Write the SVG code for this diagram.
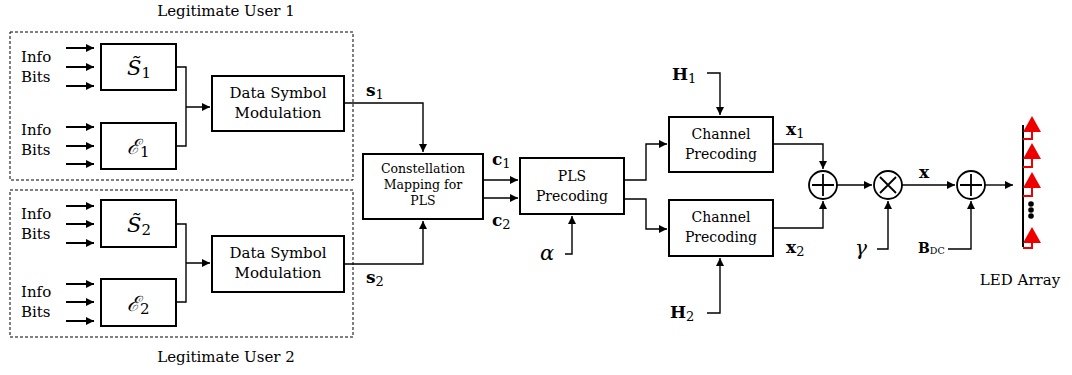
<svg xmlns="http://www.w3.org/2000/svg" width="1072" height="375" viewBox="0 0 1072 375" font-family="'DejaVu Serif', serif">
<style>
text{font-family:"DejaVu Serif",serif;fill:#000}
.t{font-size:15px}
.tm{font-size:15px;text-anchor:middle}
.tc{font-size:14px;text-anchor:middle}
.ts{font-size:12.5px;text-anchor:middle}
.b{font-weight:bold;font-size:17px}
.sub{font-weight:normal;font-size:13px}
.cal{font-style:italic;font-size:21px}
.box{fill:#fff;stroke:#000;stroke-width:2}
.dash{fill:none;stroke:#000;stroke-width:1;stroke-dasharray:3,2}
.ln{fill:none;stroke:#000;stroke-width:1.4}
.in{fill:none;stroke:#000;stroke-width:2}
.op{fill:#fff;stroke:#000;stroke-width:1.8}
.red{fill:none;stroke:#e00;stroke-width:2}
</style>
<defs>
<marker id="ah" viewBox="0 0 10 10" refX="10" refY="5" markerWidth="9" markerHeight="8" markerUnits="userSpaceOnUse" orient="auto"><path d="M0,0 L10,5 L0,10 z" fill="#000"/></marker>
</defs>

<g id="user1">
<rect class="dash" x="10" y="32" width="343" height="148"/>
<text class="tm" x="226" y="16" font-size="14.5">Legitimate User 1</text>
</g>
<g id="user2">
<rect class="dash" x="10" y="190" width="343" height="147"/>
<text class="tm" x="226" y="362" font-size="14.5">Legitimate User 2</text>
</g>

<g id="info1">
<text class="t" x="21" y="62">Info</text><text class="t" x="21" y="82">Bits</text>
<path class="in" marker-end="url(#ah)" d="M66,48H94"/><path class="in" marker-end="url(#ah)" d="M66,67H94"/><path class="in" marker-end="url(#ah)" d="M66,86H94"/>
</g>
<g id="info2">
<text class="t" x="21" y="135">Info</text><text class="t" x="21" y="155">Bits</text>
<path class="in" marker-end="url(#ah)" d="M66,127H94"/><path class="in" marker-end="url(#ah)" d="M66,146H94"/><path class="in" marker-end="url(#ah)" d="M66,164H94"/>
</g>
<g id="info3">
<text class="t" x="21" y="219">Info</text><text class="t" x="21" y="239">Bits</text>
<path class="in" marker-end="url(#ah)" d="M66,206H94"/><path class="in" marker-end="url(#ah)" d="M66,224H94"/><path class="in" marker-end="url(#ah)" d="M66,243H94"/>
</g>
<g id="info4">
<text class="t" x="21" y="297">Info</text><text class="t" x="21" y="317">Bits</text>
<path class="in" marker-end="url(#ah)" d="M66,284H94"/><path class="in" marker-end="url(#ah)" d="M66,302H94"/><path class="in" marker-end="url(#ah)" d="M66,321H94"/>
</g>

<g id="S1"><rect class="box" x="101" y="44" width="75" height="46"/>
<text class="cal" x="127" y="75">S̃<tspan font-style="normal" font-size="15" dy="3">1</tspan></text></g>
<g id="E1"><rect class="box" x="101" y="123" width="75" height="46"/>
<text class="cal" x="127" y="154">ℰ<tspan font-style="normal" font-size="15" dy="3">1</tspan></text></g>
<g id="S2"><rect class="box" x="101" y="200" width="75" height="47"/>
<text class="cal" x="127" y="232">S̃<tspan font-style="normal" font-size="15" dy="3">2</tspan></text></g>
<g id="E2"><rect class="box" x="101" y="279" width="75" height="47"/>
<text class="cal" x="127" y="311">ℰ<tspan font-style="normal" font-size="15" dy="3">2</tspan></text></g>

<g id="DSM1"><rect class="box" x="212" y="76" width="132" height="55"/>
<text class="tm" x="278" y="98">Data Symbol</text><text class="tm" x="278" y="118">Modulation</text></g>
<g id="DSM2"><rect class="box" x="212" y="236" width="132" height="56"/>
<text class="tm" x="278" y="258">Data Symbol</text><text class="tm" x="278" y="278">Modulation</text></g>

<g id="CM"><rect class="box" x="363" y="154" width="120" height="65"/>
<text class="ts" x="423" y="173">Constellation</text><text class="ts" x="423" y="189">Mapping for</text><text class="ts" x="423" y="205">PLS</text></g>

<g id="PLS"><rect class="box" x="520" y="158" width="104" height="56"/>
<text class="tc" x="572" y="181">PLS</text><text class="tc" x="572" y="201">Precoding</text></g>

<g id="CP1"><rect class="box" x="669" y="117" width="104" height="55"/>
<text class="tc" x="721" y="139">Channel</text><text class="tc" x="721" y="159">Precoding</text></g>
<g id="CP2"><rect class="box" x="669" y="200" width="104" height="56"/>
<text class="tc" x="721" y="222">Channel</text><text class="tc" x="721" y="242">Precoding</text></g>

<g id="sum1"><circle class="op" cx="823" cy="185" r="14"/><path class="op" d="M812,185H834M823,174V196"/></g>
<g id="mul"><circle class="op" cx="888" cy="185" r="14"/><path class="op" d="M880,177L896,193M896,177L880,193"/></g>
<g id="sum2"><circle class="op" cx="971" cy="185" r="14"/><path class="op" d="M960,185H982M971,174V196"/></g>

<g id="led">
<path d="M1023,125V247" stroke="#000" stroke-width="2"/>
<path class="red" d="M1023,139H1032V130M1023,167H1032V158M1023,196H1032V187M1023,248H1032V240"/>
<path fill="#e00" d="M1032,116L1041,132H1023ZM1032,143L1041,159H1023ZM1032,172L1041,188H1023ZM1032,227L1041,243H1023Z"/>
<circle cx="1031" cy="204" r="2.8"/><circle cx="1031" cy="210" r="2.8"/><circle cx="1031" cy="216" r="2.8"/>
<text class="tm" x="1020" y="285" font-size="14">LED Array</text>
</g>

<g id="connectors">
<path class="ln" d="M176,67H186V146H176M186,107H210" marker-end="url(#ah)"/>
<path class="ln" d="M176,224H186V302H176M186,263H210" marker-end="url(#ah)"/>
<path class="ln" marker-end="url(#ah)" d="M344,103H423V152"/>
<path class="ln" marker-end="url(#ah)" d="M344,264H423V221"/>
<path class="ln" marker-end="url(#ah)" d="M483,180H518"/>
<path class="ln" marker-end="url(#ah)" d="M483,198H518"/>
<path class="ln" marker-end="url(#ah)" d="M565,254H572V216"/>
<path class="ln" marker-end="url(#ah)" d="M624,180H646V144H667"/>
<path class="ln" marker-end="url(#ah)" d="M624,199H646V229H667"/>
<path class="ln" marker-end="url(#ah)" d="M707,73H720V115"/>
<path class="ln" marker-end="url(#ah)" d="M707,313H720V258"/>
<path class="ln" marker-end="url(#ah)" d="M773,144H823V169"/>
<path class="ln" marker-end="url(#ah)" d="M773,228H823V201"/>
<path class="ln" marker-end="url(#ah)" d="M837,185H872"/>
<path class="ln" marker-end="url(#ah)" d="M877,249H888V201"/>
<path class="ln" marker-end="url(#ah)" d="M902,185H955"/>
<path class="ln" marker-end="url(#ah)" d="M948,249H971V201"/>
<path class="ln" marker-end="url(#ah)" d="M985,185H1013"/>
</g>

<g id="labels">
<text class="b" x="366" y="96">s<tspan class="sub" dy="3">1</tspan></text>
<text class="b" x="366" y="283">s<tspan class="sub" dy="3">2</tspan></text>
<text class="b" x="492" y="165">c<tspan class="sub" dy="3">1</tspan></text>
<text class="b" x="492" y="226">c<tspan class="sub" dy="3">2</tspan></text>
<text x="540" y="260" font-size="21" font-style="italic">α</text>
<text class="b" x="672" y="80" font-size="19">H<tspan class="sub" dy="3">1</tspan></text>
<text class="b" x="670" y="318" font-size="19">H<tspan class="sub" dy="3">2</tspan></text>
<text class="b" x="786" y="135">x<tspan class="sub" dy="3">1</tspan></text>
<text class="b" x="786" y="253">x<tspan class="sub" dy="3">2</tspan></text>
<text x="855" y="255" font-size="20" font-style="italic">γ</text>
<text class="b" x="919" y="178">x</text>
<text x="918" y="253" font-size="14" font-weight="bold">B<tspan font-weight="normal" font-size="9.5" dy="1">DC</tspan></text>
</g>
</svg>
